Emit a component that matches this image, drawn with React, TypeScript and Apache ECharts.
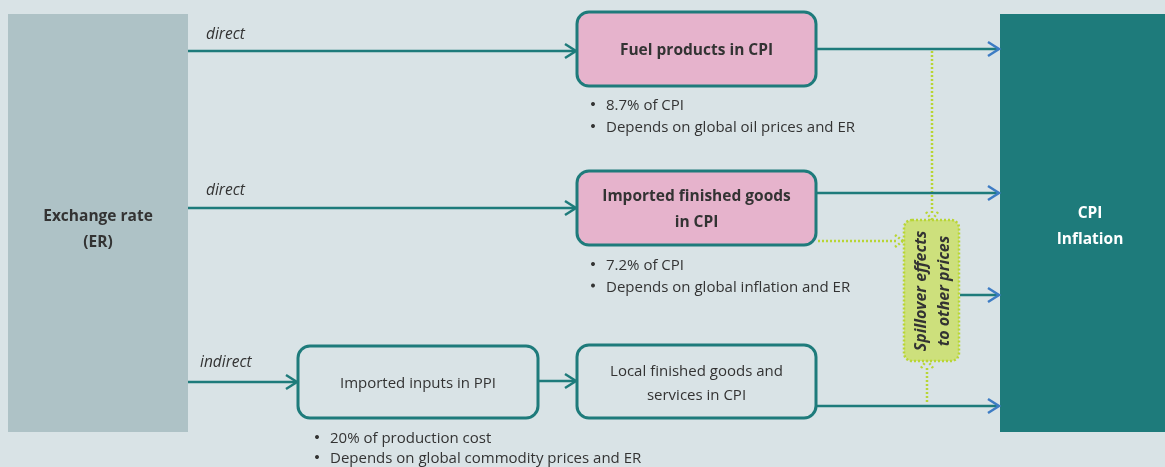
import React, { useEffect, useRef } from "react";
import * as echarts from "echarts";

// ---- content ----
const sourceLabel = ["Exchange rate", "(ER)"];
const targetLabel = ["CPI", "Inflation"];
const channelLabels = ["direct", "direct", "indirect"];
const boxTitles = [
  ["Fuel products in CPI"],
  ["Imported finished goods", "in CPI"],
  ["Imported inputs in PPI"],
  ["Local finished goods and", "services in CPI"],
];
const bulletsFuel = ["8.7% of CPI", "Depends on global oil prices and ER"];
const bulletsImported = ["7.2% of CPI", "Depends on global inflation and ER"];
const bulletsInputs = ["20% of production cost", "Depends on global commodity prices and ER"];
const spilloverLabel = ["Spillover effects", "to other prices"];

// ---- styles ----
const BG = "#d9e3e6";
const TEAL = "#1e7b7b";
const BLUE = "#3d7cc4";
const PINK = "#e6b3cc";
const LIME = "#b9d535";
const LIMEFILL = "#cde07c";
const TXT = "#333333";
const FONT = "'Open Sans', 'Noto Sans', sans-serif";

type G = any;

function arrowLine(x1: number, y: number, x2: number, color: string, headColor: string): G[] {
  return [
    { type: "line", shape: { x1, y1: y, x2: x2 - 2, y2: y }, style: { stroke: color, lineWidth: 2.5 } },
    {
      type: "polyline",
      shape: { points: [[x2 - 12, y - 7], [x2 - 1, y], [x2 - 12, y + 7]] },
      style: { stroke: headColor, lineWidth: 2.5, fill: "none" },
    },
  ];
}

function dotted(x1: number, y1: number, x2: number, y2: number): G {
  return {
    type: "line",
    shape: { x1, y1, x2, y2 },
    style: { stroke: LIME, lineWidth: 2.5, lineDash: [2, 2] },
  };
}

function box(x: number, y: number, w: number, h: number, fill: string, lines: string[], bold: boolean): G[] {
  const out: G[] = [
    {
      type: "rect",
      shape: { x, y, width: w, height: h, r: 12 },
      style: { fill, stroke: TEAL, lineWidth: 3 },
    },
  ];
  const lh = bold ? 26 : 24;
  const cy = y + h / 2;
  lines.forEach((t, i) => {
    out.push({
      type: "text",
      x: x + w / 2,
      y: cy + (i - (lines.length - 1) / 2) * lh,
      style: {
        text: t,
        fill: TXT,
        font: `${bold ? "bold 15.5px" : "15px"} ${FONT}`,
        textAlign: "center",
        textVerticalAlign: "middle",
      },
    });
  });
  return out;
}

function bullets(x: number, y: number, items: string[], step: number): G[] {
  const out: G[] = [];
  items.forEach((t, i) => {
    const yy = y + i * step;
    out.push({ type: "circle", shape: { cx: x, cy: yy, r: 2 }, style: { fill: TXT } });
    out.push({
      type: "text",
      x: x + 13,
      y: yy,
      style: { text: t, fill: TXT, font: `15px ${FONT}`, textAlign: "left", textVerticalAlign: "middle" },
    });
  });
  return out;
}

function italicLabel(x: number, y: number, t: string): G {
  return {
    type: "text",
    x,
    y,
    style: { text: t, fill: TXT, font: `italic 15.5px ${FONT}`, textAlign: "left", textVerticalAlign: "middle" },
  };
}

export default function App() {
  const ref = useRef<HTMLDivElement>(null);
  useEffect(() => {
    if (!ref.current) return;
    const chart = echarts.init(ref.current, undefined, { renderer: "svg" });
    const g: G[] = [];
    g.push({ type: "rect", shape: { x: 0, y: 0, width: 1165, height: 467 }, style: { fill: BG } });
    // source
    g.push({ type: "rect", shape: { x: 8, y: 14, width: 180, height: 418 }, style: { fill: "#aec2c6" } });
    sourceLabel.forEach((t, i) =>
      g.push({
        type: "text",
        x: 98,
        y: 215 + i * 26,
        style: { text: t, fill: TXT, font: `bold 15.5px ${FONT}`, textAlign: "center", textVerticalAlign: "middle" },
      })
    );
    // target
    g.push({ type: "rect", shape: { x: 1000, y: 14, width: 165, height: 418 }, style: { fill: TEAL } });
    targetLabel.forEach((t, i) =>
      g.push({
        type: "text",
        x: 1090,
        y: 212 + i * 26,
        style: { text: t, fill: "#ffffff", font: `bold 15.5px ${FONT}`, textAlign: "center", textVerticalAlign: "middle" },
      })
    );
    // dotted spillover connectors (behind)
    g.push(dotted(932, 51, 932, 214));
    g.push(dotted(926, 212, 932, 220));
    g.push(dotted(938, 212, 932, 220));
    g.push(dotted(818, 241, 897, 241));
    g.push(dotted(895, 235, 903, 241));
    g.push(dotted(895, 247, 903, 241));
    g.push(dotted(927, 368, 927, 404));
    g.push(dotted(921, 368, 927, 360));
    g.push(dotted(933, 368, 927, 360));

    // arrows from ER
    g.push(...arrowLine(188, 51, 577, TEAL, TEAL));
    g.push(...arrowLine(188, 208, 577, TEAL, TEAL));
    g.push(...arrowLine(188, 382, 298, TEAL, TEAL));
    g.push(...arrowLine(538, 381, 577, TEAL, TEAL));
    g.push(italicLabel(206, 33, channelLabels[0]));
    g.push(italicLabel(206, 189, channelLabels[1]));
    g.push(italicLabel(200, 361, channelLabels[2]));

    // arrows to CPI
    g.push(...arrowLine(816, 49, 1000, TEAL, BLUE));
    g.push(...arrowLine(816, 193, 1000, TEAL, BLUE));
    g.push(...arrowLine(960, 295, 1000, TEAL, BLUE));
    g.push(...arrowLine(816, 406, 1000, TEAL, BLUE));

    // boxes
    g.push(...box(577, 12, 239, 74, PINK, boxTitles[0], true));
    g.push(...box(577, 171, 239, 74, PINK, boxTitles[1], true));
    g.push(...box(298, 346, 240, 72, "none", boxTitles[2], false));
    g.push(...box(577, 345, 239, 73, "none", boxTitles[3], false));

    // bullets
    g.push(...bullets(593, 104, bulletsFuel, 22));
    g.push(...bullets(593, 264, bulletsImported, 21.5));
    g.push(...bullets(317, 437, bulletsInputs, 20));

    // spillover box
    g.push({
      type: "rect",
      shape: { x: 904, y: 220, width: 55, height: 141, r: 8 },
      style: { fill: LIMEFILL, stroke: LIME, lineWidth: 2.5, lineDash: [2, 2] },
    });
    g.push({
      type: "text",
      x: 931.5,
      y: 291,
      rotation: Math.PI / 2,
      style: {
        text: spilloverLabel.join("\n"),
        fill: TXT,
        font: `italic bold 16px ${FONT}`,
        lineHeight: 23,
        textAlign: "center",
        textVerticalAlign: "middle",
      },
    });

    chart.setOption({ animation: false, graphic: { elements: g } });
    return () => chart.dispose();
  }, []);
  return (
    <div
      ref={ref}
      style={{ position: "fixed", left: 0, top: 0, width: 1165, height: 467 }}
    />
  );
}
